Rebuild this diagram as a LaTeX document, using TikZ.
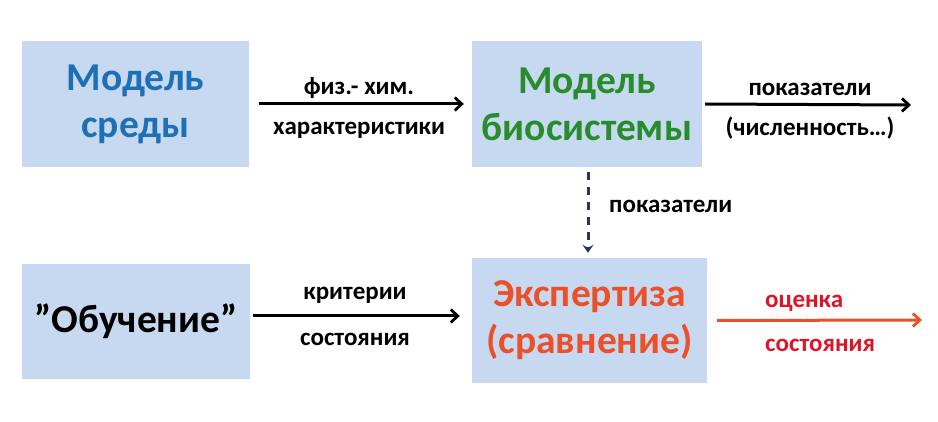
\documentclass[tikz,border=0pt]{standalone}
\usepackage{fontspec}
\setmainfont{Carlito}
\usetikzlibrary{arrows.meta}
\definecolor{boxfill}{RGB}{198,217,240}
\definecolor{cblue}{RGB}{30,112,182}
\definecolor{cgreen}{RGB}{40,140,45}
\definecolor{corange}{RGB}{235,80,40}
\definecolor{cred}{RGB}{222,20,40}
\definecolor{cnavy}{RGB}{31,56,100}
\tikzset{
  box/.style={fill=boxfill, draw=none, inner sep=0pt, align=center,
    font=\fontsize{39.5}{47}\selectfont\bfseries},
  lbl/.style={inner sep=0pt, anchor=base, font=\fontsize{25}{28}\selectfont\bfseries},
  conn/.style={line width=3pt, -{Straight Barb[length=7pt,width=13pt,line width=2.8pt]}},
  dconn/.style={line width=3pt, cnavy, dash pattern=on 8pt off 7pt,
    -{Stealth[length=8pt,width=11pt,inset=3pt]}},
}
\begin{document}
\begin{tikzpicture}[x=1pt,y=-1pt]
\useasboundingbox[fill=white] (0,0) rectangle (938,422);
\node[box, minimum width=227pt, minimum height=126pt, text=cblue] (b1) at (135.5,104) {Модель\\среды};
\node[box, minimum width=230pt, minimum height=126pt, text=cgreen] (b2) at (587,104) {Модель\\биосистемы};
\node[box, minimum width=228pt, minimum height=115pt, text=black] (b3) at (136,321.5) {”Обучение”};
\node[box, minimum width=235pt, minimum height=125pt, text=corange] (b4) at (589.5,320.5) {Экспертиза\\(сравнение)};
\coordinate (o1) at (911,105);
\coordinate (o2) at (922,320);
\draw[conn] ([xshift=10pt]b1.east) -- ([xshift=-8pt]b2.west);
\draw[conn] ([xshift=3pt]b2.east) -- (o1);
\draw[conn] ([xshift=3pt,yshift=5.5pt]b3.east) -- ([xshift=-12pt,yshift=4.5pt]b4.west);
\draw[dconn] ([xshift=1pt,yshift=-5pt]b2.south) -- ([xshift=-1.5pt,yshift=5pt]b4.north);
\draw[conn, corange] ([xshift=10pt]b4.east) -- (o2);
\node[lbl] (l1a) at (359,95) {физ.- хим.};
\node[lbl] (l1b) at (359,135) {характеристики};
\node[lbl] (l2a) at (810,96) {показатели};
\node[lbl] (l2b) at (810,136) {(численность…)};
\node[lbl, anchor=base west] (l3) at (609,213) {показатели};
\node[lbl] (l4a) at (355,300) {критерии};
\node[lbl] (l4b) at (355,345) {состояния};
\node[lbl, anchor=base west, text=cred] (l5a) at (765,308) {оценка};
\node[lbl, anchor=base west, text=cred] (l5b) at (765,352) {состояния};
\end{tikzpicture}
\end{document}
